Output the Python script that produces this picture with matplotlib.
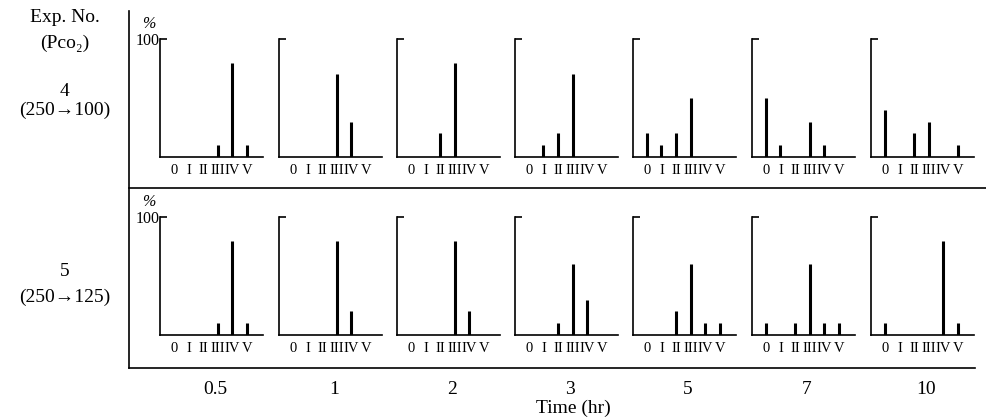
import matplotlib
matplotlib.use("Agg")
import matplotlib.pyplot as plt
from matplotlib.lines import Line2D

plt.rcParams['font.family'] = ['Liberation Serif', 'DejaVu Serif']

categories = ["0", "I", "II", "III", "IV", "V"]
times = ["0.5", "1", "2", "3", "5", "7", "10"]

exp4_values = [
    [0, 0, 0, 10, 80, 10],
    [0, 0, 0, 70, 30, 0],
    [0, 0, 20, 80, 0, 0],
    [0, 10, 20, 70, 0, 0],
    [20, 10, 20, 50, 0, 0],
    [50, 10, 0, 30, 10, 0],
    [40, 0, 20, 30, 0, 10],
]
exp5_values = [
    [0, 0, 0, 10, 80, 10],
    [0, 0, 0, 80, 20, 0],
    [0, 0, 0, 80, 20, 0],
    [0, 0, 10, 60, 30, 0],
    [0, 0, 20, 60, 10, 10],
    [10, 0, 10, 60, 10, 10],
    [10, 0, 0, 0, 80, 10],
]
rows = [exp4_values, exp5_values]

W, H = 987, 418
fig = plt.figure(figsize=(W / 100, H / 100), dpi=100)

panel_lefts = [160, 279, 397, 515, 633, 752, 871]
baselines = [157, 335]
panel_h = 118
panel_w = 103

xs = list(range(len(categories)))
for r, data in enumerate(rows):
    for c, vals in enumerate(data):
        l = panel_lefts[c] / W
        b = 1 - baselines[r] / H
        ax = fig.add_axes([l, b, panel_w / W, panel_h / H])
        xv = [x for x, v in zip(xs, vals) if v > 0]
        yv = [v for v in vals if v > 0]
        ax.vlines(xv, 0, yv, colors='black', linewidth=2.2, capstyle='butt')
        ax.set_xlim(-0.95, 6.1)
        ax.set_ylim(0, 100)
        for s in ['top', 'right']:
            ax.spines[s].set_visible(False)
        ax.spines['left'].set_linewidth(1.2)
        ax.spines['bottom'].set_linewidth(1.2)
        ax.set_xticks(xs)
        ax.set_xticklabels(categories, fontsize=10.5)
        ax.tick_params(axis='x', length=0, pad=5)
        ax.set_yticks([100])
        ax.tick_params(axis='y', direction='in', length=5, width=1.2, pad=0)
        if c == 0:
            ax.set_yticklabels(["100"], fontsize=11.5)
            ax.text(-0.17, 1.13, "%", transform=ax.transAxes, fontsize=11.5,
                    style='italic', ha='left', va='center')
        else:
            ax.set_yticklabels([""])
        ax.patch.set_alpha(0)

# frame lines
def hline(y, x0, x1):
    fig.add_artist(Line2D([x0 / W, x1 / W], [1 - y / H, 1 - y / H],
                          color='black', lw=1.2))

def vline(x, y0, y1):
    fig.add_artist(Line2D([x / W, x / W], [1 - y0 / H, 1 - y1 / H],
                          color='black', lw=1.2))

vline(129, 11, 368)
hline(188, 129, 987)
hline(368, 129, 975)

# time labels
for c, t in enumerate(times):
    cx = panel_lefts[c] + 55
    fig.text(cx / W, 1 - 389 / H, t, ha='center', va='center', fontsize=14)
fig.text(573 / W, 1 - 408 / H, "Time (hr)", ha='center', va='center', fontsize=14)

# left labels
fs = 14
fig.text(65 / W, 1 - 18 / H, "Exp. No.", ha='center', va='center', fontsize=fs)
fig.text(65 / W, 1 - 43 / H, "(Pco₂)", ha='center', va='center', fontsize=fs)
fig.text(65 / W, 1 - 92 / H, "4", ha='center', va='center', fontsize=fs)
fig.text(65 / W, 1 - 110 / H, "(250→100)", ha='center', va='center', fontsize=fs)
fig.text(65 / W, 1 - 272 / H, "5", ha='center', va='center', fontsize=fs)
fig.text(65 / W, 1 - 297 / H, "(250→125)", ha='center', va='center', fontsize=fs)

fig.savefig("out.png", dpi=100)
